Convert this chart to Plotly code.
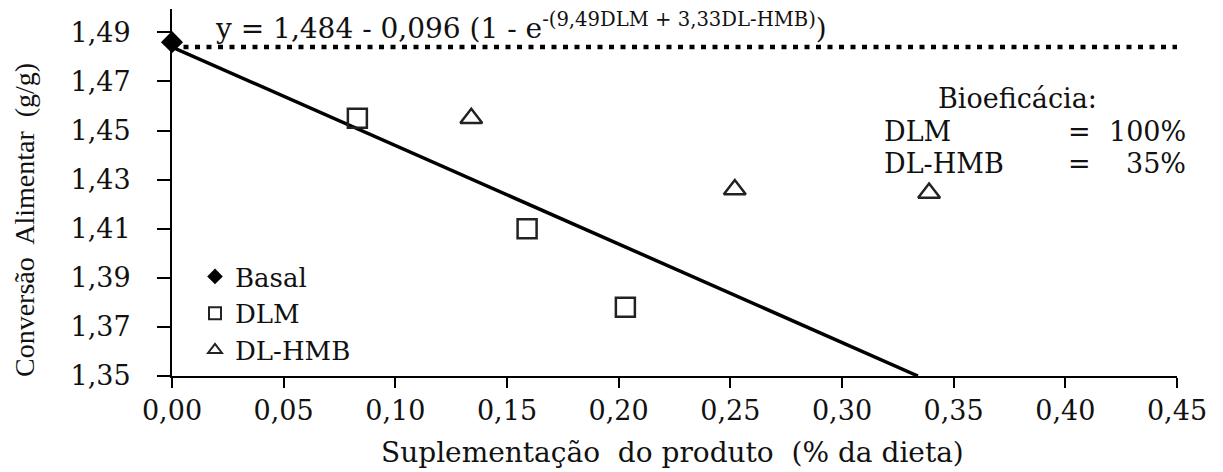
import plotly.graph_objects as go

# ---- data ----
basal_x = [0.0]
basal_y = [1.486]
dlm_x = [0.083, 0.159, 0.203]
dlm_y = [1.455, 1.410, 1.378]
hmb_x = [0.134, 0.252, 0.339]
hmb_y = [1.455, 1.426, 1.4245]
fit_x = [0.0, 0.334]
fit_y = [1.484, 1.350]
plateau_x = [0.0, 0.452]
plateau_y = [1.484, 1.484]
x_ticks = [0.00, 0.05, 0.10, 0.15, 0.20, 0.25, 0.30, 0.35, 0.40, 0.45]
y_ticks = [1.35, 1.37, 1.39, 1.41, 1.43, 1.45, 1.47, 1.49]

SERIF = "DejaVu Serif"
TIMES = "Liberation Serif"
FS = 27
INK = "#111"

# plot area in pixels
L, R, T, B = 172, 1177, 9, 376
W, H = 1223, 472


def px(xp):
    return (xp - L) / (R - L)


def py(yp):
    return (B - yp) / (B - T)


fig = go.Figure()
fig.add_trace(go.Scatter(x=plateau_x, y=plateau_y, mode="lines", showlegend=False,
                         line=dict(color="black", width=4.5, dash="5px,6.5px"), hoverinfo="skip"))
fig.add_trace(go.Scatter(x=fit_x, y=fit_y, mode="lines", showlegend=False,
                         line=dict(color="black", width=3.5), hoverinfo="skip"))
fig.add_trace(go.Scatter(x=basal_x, y=basal_y, mode="markers", name="Basal", cliponaxis=False,
                         marker=dict(symbol="diamond", size=17, color="black")))
fig.add_trace(go.Scatter(x=dlm_x, y=dlm_y, mode="markers", name="DLM",
                         marker=dict(symbol="square-open", size=19, color="#222",
                                     line=dict(width=2.5, color="#222"))))
fig.add_trace(go.Scatter(x=hmb_x, y=hmb_y, mode="markers", name="DL-HMB",
                         marker=dict(symbol="triangle-up-open", size=19, color="#222",
                                     line=dict(width=2.5, color="#222"))))


def note(xp, yp, text, anchor="left", size=FS, family=SERIF, angle=0):
    return dict(x=px(xp), y=py(yp), xref="paper", yref="paper", xanchor=anchor, yanchor="middle",
                text=text, showarrow=False, textangle=angle,
                font=dict(family=family, size=size, color=INK))


ann = [
    note(213, 27, "y = 1,484 - 0,096 (1 - e<sup>-(9,49DLM + 3,33DL-HMB)</sup>)", size=28),
    note(1017, 99, "Bioeficácia:", anchor="center"),
    note(882, 131, "DLM"),
    note(1066, 131, "="),
    note(1188, 131, "100%", anchor="right"),
    note(882, 163, "DL-HMB"),
    note(1066, 163, "="),
    note(1188, 163, "35%", anchor="right"),
    note(25, 220, "Conversão  Alimentar  (g/g)", anchor="center", size=28, family=TIMES, angle=-90),
    note(672, 452, "Suplementação  do produto  (% da dieta)", anchor="center", size=28),
]

fig.update_layout(
    width=W, height=H,
    margin=dict(l=L, r=W - R, t=T, b=H - B),
    paper_bgcolor="white", plot_bgcolor="white",
    separators=",.",
    showlegend=True,
    legend=dict(x=px(195), y=py(253), xanchor="left", yanchor="top",
                font=dict(family=SERIF, size=26, color=INK),
                bgcolor="rgba(0,0,0,0)", borderwidth=0, tracegroupgap=0,
                itemsizing="constant"),
    annotations=ann,
    xaxis=dict(range=[0, 0.45], tickvals=x_ticks, tickformat=".2f",
               showgrid=False, zeroline=False, showline=True, linecolor="black", linewidth=2,
               ticks="outside", ticklen=10, tickwidth=2, tickcolor="black",
               tickfont=dict(family=SERIF, size=FS, color=INK)),
    yaxis=dict(range=[1.35, 1.4995], tickvals=y_ticks, tickformat=".2f",
               showgrid=False, zeroline=False, showline=True, linecolor="black", linewidth=2,
               ticks="outside", ticklen=13, tickwidth=2, tickcolor="black",
               ticklabelstandoff=21,
               tickfont=dict(family=SERIF, size=FS, color=INK)),
)

fig.write_html("out.html")
